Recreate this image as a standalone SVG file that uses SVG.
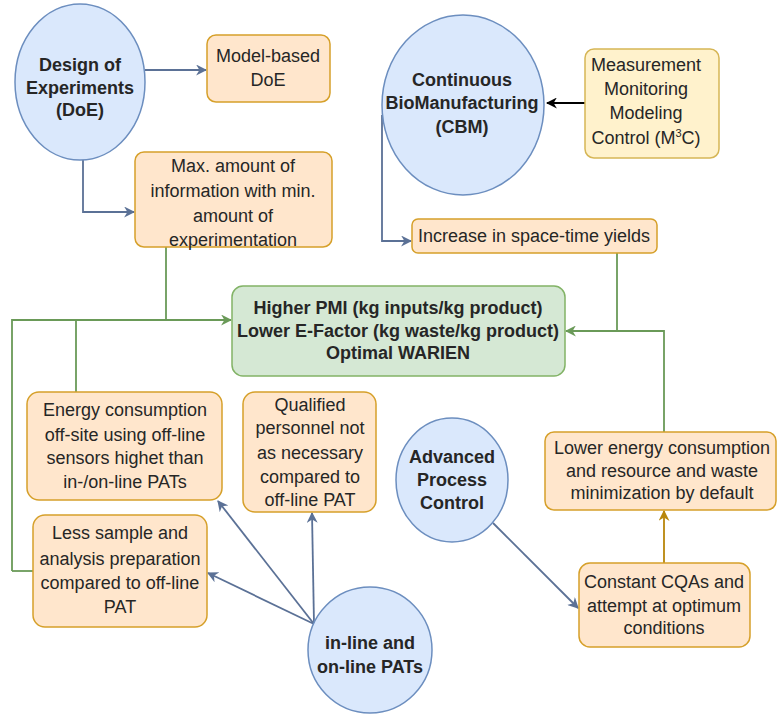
<svg xmlns="http://www.w3.org/2000/svg" width="778" height="717" viewBox="0 0 778 717">
<style>
.c{fill:#dae8fc;stroke:#6c8ebf;stroke-width:1.5}
.o{fill:#ffe6cc;stroke:#d6a02a;stroke-width:1.5}
.y{fill:#fff2cc;stroke:#d6b656;stroke-width:1.5}
.g{fill:#d5e8d4;stroke:#82b366;stroke-width:1.5}
text{font-family:"Liberation Sans",Arial,sans-serif;font-size:18px;fill:#262626;text-anchor:middle}
.b{font-weight:bold}
.lb{fill:none;stroke:#5b7196;stroke-width:1.8}
.lg{fill:none;stroke:#6a9a58;stroke-width:1.8}
.lk{fill:none;stroke:#000;stroke-width:1.8}
.lo{fill:none;stroke:#b8860b;stroke-width:1.8}
</style>
<defs>
<marker id="ab" viewBox="0 0 10 10" refX="9" refY="5" markerWidth="11" markerHeight="11" markerUnits="userSpaceOnUse" orient="auto"><path d="M0,0 L10,5 L0,10 L3,5 Z" fill="#5b7196"/></marker>
<marker id="ag" viewBox="0 0 10 10" refX="9" refY="5" markerWidth="11" markerHeight="11" markerUnits="userSpaceOnUse" orient="auto"><path d="M0,0 L10,5 L0,10 L3,5 Z" fill="#6a9a58"/></marker>
<marker id="ak" viewBox="0 0 10 10" refX="9" refY="5" markerWidth="11" markerHeight="11" markerUnits="userSpaceOnUse" orient="auto"><path d="M0,0 L10,5 L0,10 L3,5 Z" fill="#000"/></marker>
<marker id="ao" viewBox="0 0 10 10" refX="9" refY="5" markerWidth="11" markerHeight="11" markerUnits="userSpaceOnUse" orient="auto"><path d="M0,0 L10,5 L0,10 L3,5 Z" fill="#b8860b"/></marker>
</defs>
<g id="connectors">
<path class="lb" d="M145,70 H206" marker-end="url(#ab)"/>
<path class="lb" d="M83,160 V212 H134" marker-end="url(#ab)"/>
<path class="lk" d="M585,103 H547" marker-end="url(#ak)"/>
<path class="lb" d="M382,115 V241 H411" marker-end="url(#ab)"/>
<path class="lg" d="M166,247 V320"/>
<path class="lg" d="M12,571 H33"/>
<path class="lg" d="M12,571 V320 H231" marker-end="url(#ag)"/>
<path class="lg" d="M76,392 V320"/>
<path class="lg" d="M617,253 V331"/>
<path class="lg" d="M664,432 V331 H566" marker-end="url(#ag)"/>
<path class="lo" d="M664,563 V511" marker-end="url(#ao)"/>
<path class="lb" d="M493,523 L578,608" marker-end="url(#ab)"/>
<path class="lb" d="M314,624 L218,501" marker-end="url(#ab)"/>
<path class="lb" d="M314,624 L312,513" marker-end="url(#ab)"/>
<path class="lb" d="M314,624 L208,573" marker-end="url(#ab)"/>
</g>
<g id="doe"><ellipse class="c" cx="80" cy="82" rx="65" ry="78"/>
<text class="b" x="80" y="71">Design of</text><text class="b" x="80" y="94">Experiments</text><text class="b" x="80" y="116">(DoE)</text></g>
<g id="model"><rect class="o" x="207" y="35" width="123" height="67" rx="9"/>
<text x="268" y="62">Model-based</text><text x="268" y="86">DoE</text></g>
<g id="maxinfo"><rect class="o" x="135" y="152" width="197" height="95" rx="9"/>
<text x="233" y="172">Max. amount of</text><text x="233" y="197">information with min.</text><text x="233" y="222">amount of</text><text x="233" y="246">experimentation</text></g>
<g id="cbm"><ellipse class="c" cx="463" cy="105" rx="81" ry="90"/>
<text class="b" x="462" y="86">Continuous</text><text class="b" x="462" y="109">BioManufacturing</text><text class="b" x="462" y="133">(CBM)</text></g>
<g id="m3c"><rect class="y" x="585" y="49" width="134" height="109" rx="9"/>
<text x="646" y="71">Measurement</text><text x="646" y="95">Monitoring</text><text x="646" y="119">Modeling</text><text x="646" y="144">Control (M<tspan dy="-7" font-size="11">3</tspan><tspan dy="7">C)</tspan></text></g>
<g id="increase"><rect class="o" x="412" y="219" width="245" height="34" rx="6"/>
<text x="534" y="242">Increase in space-time yields</text></g>
<g id="green"><rect class="g" x="232" y="286" width="333" height="90" rx="11"/>
<text class="b" x="398" y="314">Higher PMI (kg inputs/kg product)</text><text class="b" x="398" y="337">Lower E-Factor (kg waste/kg product)</text><text class="b" x="398" y="359">Optimal WARIEN</text></g>
<g id="energy"><rect class="o" x="27" y="392" width="195" height="108" rx="12"/>
<text x="125" y="416">Energy consumption</text><text x="125" y="441">off-site using off-line</text><text x="125" y="464">sensors highet than</text><text x="125" y="488">in-/on-line PATs</text></g>
<g id="qualified"><rect class="o" x="243" y="392" width="133" height="120" rx="12"/>
<text x="310" y="411">Qualified</text><text x="310" y="434">personnel not</text><text x="310" y="459">as necessary</text><text x="310" y="483">compared to</text><text x="310" y="506">off-line PAT</text></g>
<g id="less"><rect class="o" x="33" y="515" width="174" height="112" rx="12"/>
<text x="120" y="539">Less sample and</text><text x="120" y="565">analysis preparation</text><text x="120" y="589">compared to off-line</text><text x="120" y="613">PAT</text></g>
<g id="inline"><ellipse class="c" cx="370" cy="650" rx="62" ry="63"/>
<text class="b" x="370" y="649">in-line and</text><text class="b" x="370" y="673">on-line PATs</text></g>
<g id="apc"><ellipse class="c" cx="452" cy="480" rx="56" ry="62"/>
<text class="b" x="452" y="463">Advanced</text><text class="b" x="452" y="486">Process</text><text class="b" x="452" y="509">Control</text></g>
<g id="lower"><rect class="o" x="545" y="432" width="231" height="78" rx="9"/>
<text x="662" y="454">Lower energy consumption</text><text x="662" y="477">and resource and waste</text><text x="662" y="499">minimization by default</text></g>
<g id="constant"><rect class="o" x="579" y="563" width="171" height="84" rx="11"/>
<text x="664" y="588">Constant CQAs and</text><text x="664" y="612">attempt at optimum</text><text x="664" y="634">conditions</text></g>
</svg>
